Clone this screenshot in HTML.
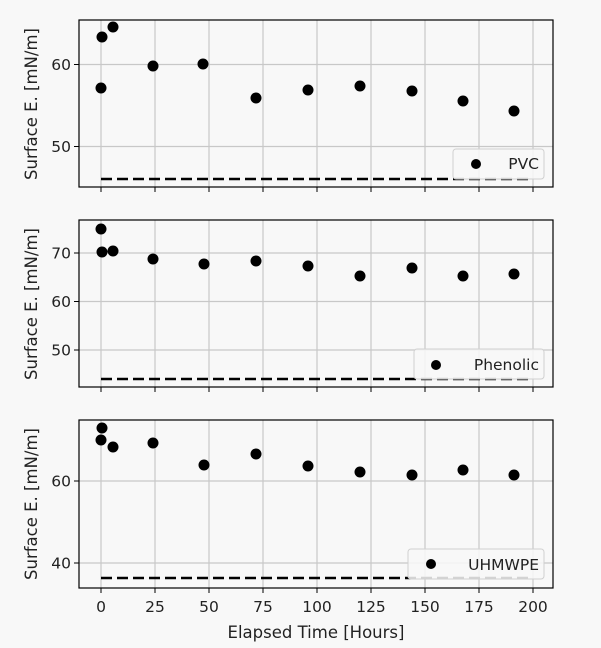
<!DOCTYPE html>
<html><head><style>
html,body{margin:0;padding:0;background:#f8f8f8;}
svg{display:block;font-family:"DejaVu Sans","Liberation Sans",sans-serif;}
</style></head><body>
<svg width="601" height="648" viewBox="0 0 601 648" xmlns="http://www.w3.org/2000/svg">
<rect width="601" height="648" fill="#f8f8f8"/>
<g stroke="#c8c8c8" stroke-width="1.2">
  <line x1="101" x2="101" y1="20" y2="187"/><line x1="155" x2="155" y1="20" y2="187"/><line x1="209" x2="209" y1="20" y2="187"/><line x1="263" x2="263" y1="20" y2="187"/><line x1="317" x2="317" y1="20" y2="187"/><line x1="371" x2="371" y1="20" y2="187"/><line x1="425" x2="425" y1="20" y2="187"/><line x1="479" x2="479" y1="20" y2="187"/><line x1="533" x2="533" y1="20" y2="187"/>
  <line x1="101" x2="101" y1="220" y2="387"/><line x1="155" x2="155" y1="220" y2="387"/><line x1="209" x2="209" y1="220" y2="387"/><line x1="263" x2="263" y1="220" y2="387"/><line x1="317" x2="317" y1="220" y2="387"/><line x1="371" x2="371" y1="220" y2="387"/><line x1="425" x2="425" y1="220" y2="387"/><line x1="479" x2="479" y1="220" y2="387"/><line x1="533" x2="533" y1="220" y2="387"/>
  <line x1="101" x2="101" y1="420" y2="588"/><line x1="155" x2="155" y1="420" y2="588"/><line x1="209" x2="209" y1="420" y2="588"/><line x1="263" x2="263" y1="420" y2="588"/><line x1="317" x2="317" y1="420" y2="588"/><line x1="371" x2="371" y1="420" y2="588"/><line x1="425" x2="425" y1="420" y2="588"/><line x1="479" x2="479" y1="420" y2="588"/><line x1="533" x2="533" y1="420" y2="588"/>
  <line x1="79" x2="553" y1="64.5" y2="64.5"/><line x1="79" x2="553" y1="146.5" y2="146.5"/>
  <line x1="79" x2="553" y1="253" y2="253"/><line x1="79" x2="553" y1="301.5" y2="301.5"/><line x1="79" x2="553" y1="350" y2="350"/>
  <line x1="79" x2="553" y1="481" y2="481"/><line x1="79" x2="553" y1="563" y2="563"/>
</g>
<g stroke="#000" stroke-width="2.6" stroke-dasharray="11,5">
  <line x1="101" x2="533" y1="179" y2="179"/>
  <line x1="101" x2="533" y1="379" y2="379"/>
  <line x1="101" x2="533" y1="578" y2="578"/>
</g>
<g fill="#000">
  <circle cx="101" cy="88" r="5.5"/><circle cx="102" cy="37" r="5.5"/><circle cx="113" cy="27" r="5.5"/><circle cx="153" cy="66" r="5.5"/><circle cx="203" cy="64" r="5.5"/><circle cx="256" cy="98" r="5.5"/><circle cx="308" cy="90" r="5.5"/><circle cx="360" cy="86" r="5.5"/><circle cx="412" cy="91" r="5.5"/><circle cx="463" cy="101" r="5.5"/><circle cx="514" cy="111" r="5.5"/>
  <circle cx="101" cy="229" r="5.5"/><circle cx="102" cy="252" r="5.5"/><circle cx="113" cy="251" r="5.5"/><circle cx="153" cy="259" r="5.5"/><circle cx="204" cy="264" r="5.5"/><circle cx="256" cy="261" r="5.5"/><circle cx="308" cy="266" r="5.5"/><circle cx="360" cy="276" r="5.5"/><circle cx="412" cy="268" r="5.5"/><circle cx="463" cy="276" r="5.5"/><circle cx="514" cy="274" r="5.5"/>
  <circle cx="101" cy="440" r="5.5"/><circle cx="102" cy="428" r="5.5"/><circle cx="113" cy="447" r="5.5"/><circle cx="153" cy="443" r="5.5"/><circle cx="204" cy="465" r="5.5"/><circle cx="256" cy="454" r="5.5"/><circle cx="308" cy="466" r="5.5"/><circle cx="360" cy="472" r="5.5"/><circle cx="412" cy="475" r="5.5"/><circle cx="463" cy="470" r="5.5"/><circle cx="514" cy="475" r="5.5"/>
</g>
<g stroke="#d0d0d0" fill="#f8f8f8" fill-opacity="0.85">
  <rect x="453" y="149" width="91" height="30" rx="3"/>
  <rect x="414" y="349" width="130" height="30" rx="3"/>
  <rect x="408" y="549" width="136" height="30" rx="3"/>
</g>
<g fill="#000"><circle cx="476" cy="164" r="5"/><circle cx="436" cy="365" r="5"/><circle cx="431" cy="564" r="5"/></g>
<g font-size="15.5" fill="#222" text-anchor="end">
  <text x="539" y="169">PVC</text>
  <text x="539" y="370">Phenolic</text>
  <text x="539" y="570">UHMWPE</text>
</g>
<g fill="none" stroke="#000" stroke-width="1.2">
  <rect x="79" y="20" width="474" height="167"/>
  <rect x="79" y="220" width="474" height="167"/>
  <rect x="79" y="420" width="474" height="168"/>
</g>
<g stroke="#000" stroke-width="1">
  <path d="M101 187v5M155 187v5M209 187v5M263 187v5M317 187v5M371 187v5M425 187v5M479 187v5M533 187v5"/>
  <path d="M101 387v5M155 387v5M209 387v5M263 387v5M317 387v5M371 387v5M425 387v5M479 387v5M533 387v5"/>
  <path d="M101 588v5M155 588v5M209 588v5M263 588v5M317 588v5M371 588v5M425 588v5M479 588v5M533 588v5"/>
  <path d="M74 64.5h5M74 146.5h5M74 253h5M74 301.5h5M74 350h5M74 481h5M74 563h5"/>
</g>
<g font-size="15.5" fill="#222" text-anchor="end">
  <text x="71" y="70">60</text><text x="71" y="152">50</text>
  <text x="71" y="258.5">70</text><text x="71" y="307">60</text><text x="71" y="355.5">50</text>
  <text x="71" y="486.5">60</text><text x="71" y="568.5">40</text>
</g>
<g font-size="15.5" fill="#222" text-anchor="middle">
  <text x="101" y="612">0</text><text x="155" y="612">25</text><text x="209" y="612">50</text><text x="263" y="612">75</text><text x="317" y="612">100</text><text x="371" y="612">125</text><text x="425" y="612">150</text><text x="479" y="612">175</text><text x="533" y="612">200</text>
  <text x="316" y="638" font-size="16.5">Elapsed Time [Hours]</text>
  <text transform="translate(37,104) rotate(-90)" font-size="16.5">Surface E. [mN/m]</text>
  <text transform="translate(37,304) rotate(-90)" font-size="16.5">Surface E. [mN/m]</text>
  <text transform="translate(37,504) rotate(-90)" font-size="16.5">Surface E. [mN/m]</text>
</g>
</svg>
</body></html>
